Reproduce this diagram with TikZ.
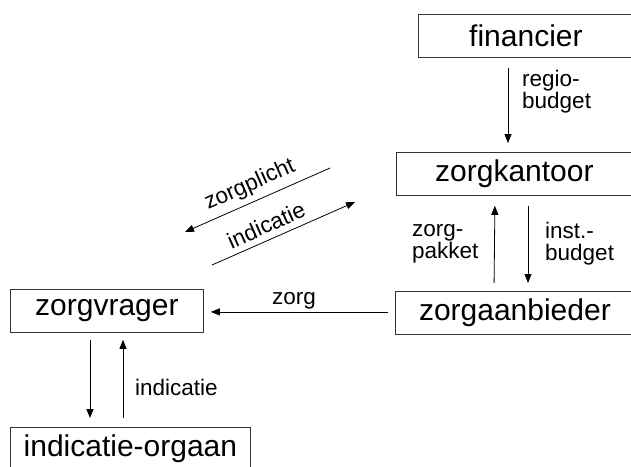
\documentclass[tikz,border=0pt]{standalone}
\usepackage{fontspec}
\setmainfont{Liberation Sans}
\usetikzlibrary{arrows.meta}
\begin{document}
\begin{tikzpicture}[x=1pt, y=-1pt,
        blok/.style={draw=black!80, line width=0.8pt, inner sep=0pt, minimum height=43pt,
            anchor=north west, font=\fontsize{30}{36}\selectfont},
        pijl/.style={-{Triangle[length=9pt, width=7pt]}, line width=0.8pt},
        etiket/.style={inner sep=0pt, align=left, font=\fontsize{22.5}{22}\selectfont}]
            \useasboundingbox (0,0) rectangle (631,466);

            \node[blok, minimum width=215pt] (fin) at (418,14) {financier};
            \node[blok, minimum width=236pt] (zk) at (396,152) {zorgkantoor};
            \node[blok, minimum width=239pt] (za) at (395,291) {zorgaanbieder};
            \node[blok, minimum width=193pt] (zv) at (10,289) {zorgvrager};
            \node[blok, minimum width=240pt] (io) at (10,427) {indicatie-orgaan};

            \coordinate (zp1) at (330,168);
            \coordinate (zp2) at (185,232);
            \coordinate (ind1) at (212,265);
            \coordinate (ind2) at (355,202);

            \draw[pijl, shorten <=10pt, shorten >=9pt] ([xshift=90pt]fin.south west) -- ([xshift=90pt]fin.south west |- zk.north);
            \draw[pijl, shorten <=8pt, shorten >=10pt] ([xshift=99pt]za.north west |- za.north) -- ([xshift=99pt]zk.south west);
            \draw[pijl, shorten <=10pt, shorten >=8pt] ([xshift=132pt]zk.south west) -- ([xshift=132pt]zk.south west |- za.north);
            \draw[pijl, shorten <=7pt, shorten >=7pt] ([yshift=1pt]za.west) -- ([yshift=1pt]za.west -| zv.east);
            \draw[pijl, shorten <=7pt, shorten >=9pt] ([xshift=80pt]zv.south west) -- ([xshift=80pt]zv.south west |- io.north);
            \draw[pijl, shorten <=9pt, shorten >=7pt] ([xshift=113pt]zv.south west |- io.north) -- ([xshift=113pt]zv.south west);
            \draw[pijl] (zp1) -- (zp2);
            \draw[pijl] (ind1) -- (ind2);

            \node[etiket, anchor=west] (lregio) at (522,92) {regio-\\budget};
            \node[etiket, anchor=west] (lpakket) at (412,244) {zorg-\\pakket};
            \node[etiket, anchor=west] (lbudget) at (545,244) {inst.-\\budget};
            \node[etiket] (lzorg) at (294,301) {zorg};
            \node[etiket, anchor=west] (lind) at (135,387) {indicatie};
            \node[etiket, rotate=24] (lplicht) at (250,185) {zorgplicht};
            \node[etiket, rotate=24] (lindic) at (266,225) {indicatie};
    \end{tikzpicture}
\end{document}
